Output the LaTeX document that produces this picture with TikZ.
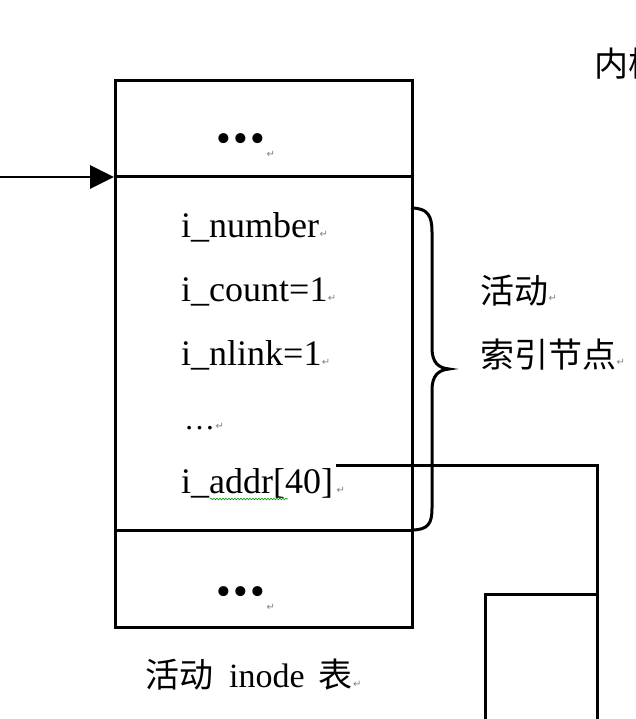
\documentclass[tikz,border=0pt]{standalone}
\usepackage{fontspec}
\setmainfont{Liberation Serif}
\newfontfamily\cjk{Noto Sans CJK SC}
\newfontfamily\dejavu{DejaVu Sans}
\usetikzlibrary{arrows.meta,decorations.pathmorphing}
\begin{document}
\begin{tikzpicture}[x=1pt,y=-1pt,
  boxline/.style={line width=3pt},
  field/.style={anchor=base west,inner sep=0pt,font=\fontsize{36}{40}\selectfont},
  bullets/.style={anchor=base west,inner sep=0pt,font=\fontsize{42}{46}\selectfont},
  cjktext/.style={anchor=west,inner sep=0pt,font=\fontsize{34}{38}\selectfont\cjk},
  pmark/.style={anchor=base west,inner sep=0pt,text=gray,font=\fontsize{10}{12}\selectfont\dejavu},
]
\useasboundingbox (0,0) rectangle (635,719);
% table box
\node[boxline,draw,anchor=north west,minimum width=297pt,minimum height=547pt,inner sep=0pt] (tbl) at (114,79) {};
\coordinate (d1) at (0,177);
\coordinate (d2) at (0,530);
\draw[boxline] (tbl.west |- d1) -- (tbl.east |- d1);
\draw[boxline] (tbl.west |- d2) -- (tbl.east |- d2);
% incoming arrow
\coordinate (in) at (-5,177);
\draw[line width=2.8pt,-{Triangle[length=24pt,width=23pt]}] (in) -- (tbl.west |- d1);
% dots
\node[bullets] (dotsA) at (216,153) {•\hspace{2.5pt}•\hspace{2.5pt}•};
\node[pmark] at ([xshift=1pt,yshift=-5pt]dotsA.base east) {↵};
\node[bullets] (dotsB) at (216,605) {•\hspace{2.5pt}•\hspace{2.5pt}•};
\node[pmark] at ([xshift=1pt,yshift=-5pt]dotsB.base east) {↵};
% fields
\node[field] (fnum) at (181,237) {i\_number};
\node[pmark] at (fnum.base east) {↵};
\node[field] (fcount) at (181,301) {i\_count=1};
\node[pmark] at (fcount.base east) {↵};
\node[field] (fnlink) at (181,365) {i\_nlink=1};
\node[pmark] at (fnlink.base east) {↵};
\node[field,font=\fontsize{31}{34}\selectfont] (fdots) at (184,429) {…};
\node[pmark] at (fdots.base east) {↵};
\node[field] (faddr) at (181,493) {i\_addr[40]};
\node[pmark] at ([xshift=3pt]faddr.base east) {↵};
\draw[green!60!black,line width=0.6pt,decorate,decoration={snake,amplitude=0.8pt,segment length=3pt}] (210,499) -- (288,499);
% brace
\draw[line width=3pt] (411,208) .. controls (428,208) and (432,216) .. (432,232) -- (432,348)
  .. controls (432,362) and (438,368) .. (449,369)
  .. controls (438,370) and (432,376) .. (432,390) -- (432,508)
  .. controls (432,524) and (428,530) .. (411,530);
% labels
\node[cjktext] (lab1) at (480,291) {活动};
\node[pmark] at ([yshift=-10pt]lab1.east) {↵};
\node[cjktext] (lab2) at (480,355) {索引节点};
\node[pmark] at ([yshift=-10pt]lab2.east) {↵};
\node[cjktext] (kern) at (594,64) {内核};
% connector from i_addr
\coordinate (a0) at (336,465);
\coordinate (a1) at (597,465);
\coordinate (a2) at (597,740);
\draw[boxline] (a0) -- (a1) -- (a2);
% block box
\coordinate (b0) at (485,740);
\coordinate (b1) at (485,594);
\draw[boxline] (b0) -- (b1) -- (a1 |- b1);
% caption
\node[anchor=west,inner sep=0pt] (cap) at (145,675) {\fontsize{34}{38}\selectfont{\cjk 活动}\hspace{16pt}inode\hspace{14pt}{\cjk 表}};
\node[pmark] at ([yshift=-12pt]cap.east) {↵};
\end{tikzpicture}
\end{document}
